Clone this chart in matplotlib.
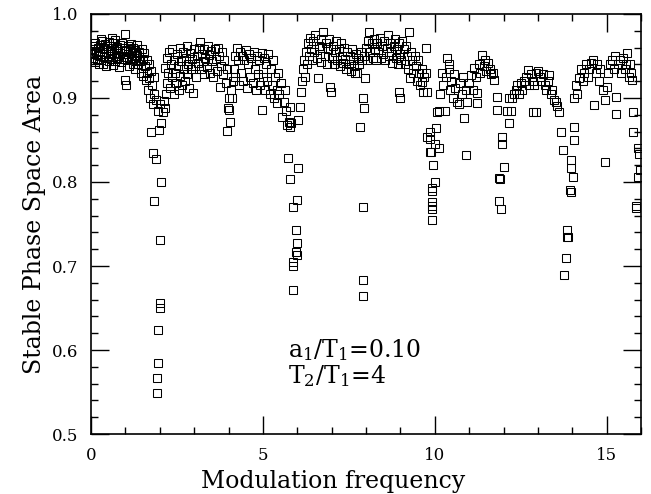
import matplotlib
matplotlib.use("Agg")
import matplotlib.pyplot as plt
from matplotlib.ticker import MultipleLocator

plt.rcParams['font.family'] = ['DejaVu Serif']
plt.rcParams['mathtext.fontset'] = 'dejavuserif'

# upper band, 0 - 1.85
x1 = [0.03, 0.05, 0.07, 0.09, 0.11, 0.13, 0.15, 0.17, 0.19, 0.21, 0.23, 0.25, 0.27, 0.29, 0.30, 0.31,
      0.33, 0.35, 0.37, 0.39, 0.41, 0.43, 0.45, 0.47, 0.49, 0.51, 0.53, 0.55, 0.57, 0.59, 0.60, 0.61,
      0.63, 0.65, 0.67, 0.69, 0.71, 0.73, 0.75, 0.77, 0.79, 0.81, 0.83, 0.85, 0.87, 0.89, 0.91, 0.93,
      0.95, 0.97, 0.99, 1.00, 1.01, 1.03, 1.05, 1.07, 1.09, 1.11, 1.13, 1.15, 1.17, 1.19, 1.21, 1.23,
      1.25, 1.27, 1.29, 1.31, 1.33, 1.35, 1.37, 1.40, 1.42, 1.45, 1.47, 1.50, 1.52, 1.55, 1.57, 1.60,
      1.62, 1.64, 1.66, 1.68, 1.70, 1.72, 1.75, 1.77, 1.80, 1.82, 1.84]
y1 = [0.958, 0.948, 0.962, 0.953, 0.943, 0.966, 0.955, 0.947, 0.960, 0.951, 0.940, 0.963, 0.956, 0.945, 0.970, 0.968,
      0.952, 0.941, 0.959, 0.949, 0.964, 0.955, 0.938, 0.962, 0.950, 0.944, 0.967, 0.957, 0.946, 0.960, 0.972, 0.952,
      0.939, 0.965, 0.954, 0.944, 0.969, 0.958, 0.948, 0.961, 0.950, 0.937, 0.963, 0.953, 0.943, 0.966, 0.956, 0.946,
      0.959, 0.949, 0.976, 0.921, 0.915, 0.957, 0.945, 0.962, 0.952, 0.938, 0.958, 0.947, 0.964, 0.953, 0.941, 0.960,
      0.948, 0.934, 0.957, 0.945, 0.963, 0.951, 0.940, 0.955, 0.944, 0.930, 0.958, 0.947, 0.926, 0.953, 0.938, 0.921,
      0.945, 0.930, 0.910, 0.940, 0.924, 0.900, 0.932, 0.915, 0.893, 0.925, 0.905]

# dip near 2
x2 = [1.75, 1.80, 1.88, 1.84, 2.04, 2.01, 2.01, 2.02, 1.95, 1.96, 1.92, 1.93, 1.90, 1.95, 2.05, 2.10,
      2.00, 2.12, 2.15, 1.98]
y2 = [0.860, 0.835, 0.827, 0.777, 0.800, 0.731, 0.656, 0.650, 0.624, 0.585, 0.567, 0.549, 0.898, 0.885, 0.870, 0.883,
      0.893, 0.897, 0.888, 0.862]

# band 2.15 - 3.95
x3 = [2.15, 2.18, 2.20, 2.22, 2.25, 2.27, 2.30, 2.32, 2.35, 2.37, 2.40, 2.42, 2.45, 2.48, 2.50, 2.52,
      2.55, 2.58, 2.60, 2.63, 2.65, 2.68, 2.70, 2.73, 2.75, 2.78, 2.80, 2.83, 2.85, 2.88, 2.90, 2.93,
      2.97, 3.00, 3.02, 3.05, 3.08, 3.10, 3.13, 3.17, 3.20, 3.23, 3.25, 3.28, 3.30, 3.33, 3.36, 3.40,
      3.43, 3.46, 3.50, 3.53, 3.56, 3.60, 3.63, 3.66, 3.70, 3.73, 3.76, 3.78, 3.82, 3.85, 3.88, 3.92, 3.95]
y3 = [0.936, 0.905, 0.948, 0.918, 0.930, 0.955, 0.912, 0.940, 0.925, 0.958, 0.905, 0.945, 0.930, 0.918, 0.952, 0.938,
      0.910, 0.960, 0.926, 0.944, 0.915, 0.955, 0.934, 0.920, 0.948, 0.962, 0.928, 0.940, 0.912, 0.953, 0.935, 0.946,
      0.906, 0.958, 0.938, 0.925, 0.950, 0.942, 0.960, 0.967, 0.935, 0.952, 0.944, 0.928, 0.958, 0.948, 0.937, 0.962,
      0.951, 0.930, 0.956, 0.944, 0.925, 0.958, 0.947, 0.932, 0.960, 0.950, 0.913, 0.938, 0.955, 0.928, 0.945, 0.918, 0.935]

# dip near 4
x4 = [3.96, 4.05, 4.02, 4.10, 3.98, 4.00, 4.08, 4.12]
y4 = [0.861, 0.871, 0.886, 0.900, 0.888, 0.900, 0.910, 0.920]

# band 4.15 - 5.66
x5 = [4.15, 4.18, 4.20, 4.24, 4.27, 4.30, 4.33, 4.36, 4.40, 4.43, 4.46, 4.50, 4.53, 4.56, 4.60, 4.63,
      4.66, 4.70, 4.73, 4.76, 4.80, 4.83, 4.86, 4.90, 4.93, 4.96, 4.98, 5.00, 5.03, 5.06, 5.10, 5.13,
      5.16, 5.20, 5.23, 5.26, 5.30, 5.33, 5.36, 5.40, 5.41, 5.45, 5.48, 5.52, 5.56, 5.60, 5.63, 5.66]
y5 = [0.935, 0.950, 0.925, 0.960, 0.945, 0.915, 0.955, 0.930, 0.950, 0.920, 0.945, 0.957, 0.912, 0.940, 0.952, 0.925,
      0.948, 0.918, 0.955, 0.935, 0.910, 0.950, 0.928, 0.945, 0.915, 0.953, 0.886, 0.925, 0.948, 0.910, 0.940, 0.920,
      0.952, 0.905, 0.935, 0.915, 0.945, 0.900, 0.925, 0.910, 0.894, 0.930, 0.905, 0.918, 0.877, 0.895, 0.910, 0.885]

# dip near 6
x6 = [5.70, 5.75, 5.80, 5.78, 5.82, 6.03, 6.08, 5.72, 6.03, 5.80, 6.00, 5.88, 5.97, 5.99, 5.95, 5.99,
      5.88, 5.89, 5.88]
y6 = [0.868, 0.872, 0.889, 0.865, 0.870, 0.874, 0.889, 0.829, 0.817, 0.804, 0.779, 0.770, 0.743, 0.727, 0.717, 0.713,
      0.705, 0.700, 0.672]

# band 6.1 - 9.8
x7 = [6.12, 6.15, 6.17, 6.20, 6.22, 6.25, 6.28, 6.30, 6.33, 6.36, 6.40, 6.43, 6.46, 6.50, 6.53, 6.56,
      6.60, 6.62, 6.65, 6.68, 6.70, 6.73, 6.76, 6.80, 6.83, 6.86, 6.90, 6.93, 6.96, 6.97, 7.00, 7.03,
      7.06, 7.10, 7.13, 7.16, 7.20, 7.23, 7.26, 7.30, 7.33, 7.36, 7.40, 7.43, 7.46, 7.50, 7.53, 7.56,
      7.60, 7.63, 7.66, 7.69, 7.72, 7.74, 7.78, 7.80, 7.83, 7.85, 7.88, 7.92, 7.93, 7.92, 7.92, 7.92,
      7.95, 7.98, 8.00, 8.03, 8.06, 8.10, 8.13, 8.16, 8.20, 8.23, 8.26, 8.30, 8.33, 8.36, 8.40, 8.43,
      8.46, 8.50, 8.53, 8.56, 8.60, 8.63, 8.66, 8.70, 8.73, 8.76, 8.80, 8.83, 8.86, 8.90, 8.93, 8.96,
      8.97, 8.98, 9.00, 9.03, 9.06, 9.10, 9.13, 9.16, 9.20, 9.23, 9.26, 9.29, 9.32, 9.35, 9.38, 9.42,
      9.45, 9.48, 9.52, 9.55, 9.58, 9.62, 9.64, 9.66, 9.70, 9.75, 9.75, 9.78, 9.78]
y7 = [0.907, 0.920, 0.935, 0.945, 0.925, 0.955, 0.940, 0.965, 0.950, 0.972, 0.958, 0.945, 0.968, 0.955, 0.975, 0.948,
      0.924, 0.962, 0.952, 0.970, 0.943, 0.960, 0.978, 0.950, 0.966, 0.940, 0.958, 0.970, 0.913, 0.907, 0.948, 0.962,
      0.940, 0.955, 0.968, 0.945, 0.958, 0.938, 0.965, 0.950, 0.942, 0.960, 0.946, 0.935, 0.955, 0.940, 0.950, 0.932,
      0.958, 0.945, 0.938, 0.930, 0.952, 0.930, 0.948, 0.940, 0.866, 0.955, 0.945, 0.900, 0.888, 0.770, 0.683, 0.664,
      0.950, 0.924, 0.960, 0.945, 0.968, 0.978, 0.955, 0.965, 0.948, 0.970, 0.958, 0.945, 0.966, 0.955, 0.972, 0.948,
      0.962, 0.952, 0.968, 0.945, 0.960, 0.975, 0.950, 0.965, 0.955, 0.942, 0.962, 0.970, 0.948, 0.958, 0.940, 0.965,
      0.907, 0.900, 0.952, 0.945, 0.968, 0.958, 0.940, 0.962, 0.950, 0.935, 0.978, 0.924, 0.955, 0.945, 0.930, 0.950,
      0.938, 0.920, 0.945, 0.930, 0.915, 0.935, 0.919, 0.907, 0.925, 0.930, 0.960, 0.907, 0.854]

# dip near 10
x8 = [9.87, 9.87, 9.96, 10.00, 9.93, 9.93, 9.92, 9.93, 9.92, 9.93, 10.07, 10.04, 10.00, 9.90, 10.13, 9.85]
y8 = [0.860, 0.836, 0.820, 0.800, 0.793, 0.789, 0.776, 0.771, 0.768, 0.755, 0.883, 0.864, 0.845, 0.836, 0.840, 0.851]

# band 10.1 - 11.75
x9 = [10.12, 10.16, 10.20, 10.25, 10.30, 10.33, 10.36, 10.40, 10.42, 10.45, 10.48, 10.52, 10.55, 10.60,
      10.65, 10.70, 10.73, 10.78, 10.82, 10.86, 10.90, 10.92, 10.95, 11.00, 11.06, 11.10, 11.15, 11.20,
      11.24, 11.24, 11.28, 11.32, 11.38, 11.42, 11.46, 11.50, 11.55, 11.60, 11.65, 11.70, 11.73]
y9 = [0.885, 0.905, 0.930, 0.915, 0.885, 0.925, 0.948, 0.940, 0.935, 0.910, 0.920, 0.900, 0.928, 0.912,
      0.895, 0.893, 0.918, 0.905, 0.925, 0.876, 0.910, 0.832, 0.895, 0.918, 0.927, 0.910, 0.936, 0.925,
      0.906, 0.894, 0.940, 0.930, 0.951, 0.938, 0.945, 0.932, 0.942, 0.935, 0.928, 0.930, 0.921]

# dip near 12
x10 = [11.80, 11.80, 11.97, 11.97, 12.02, 11.86, 11.90, 11.88, 11.92]
y10 = [0.901, 0.886, 0.853, 0.845, 0.818, 0.805, 0.803, 0.777, 0.768]

# band 12.1 - 13.65
x11 = [12.10, 12.17, 12.17, 12.22, 12.25, 12.30, 12.35, 12.40, 12.45, 12.50, 12.55, 12.60, 12.65, 12.70,
       12.75, 12.80, 12.85, 12.87, 12.90, 12.95, 13.00, 13.05, 13.10, 13.15, 13.20, 13.25, 13.30, 13.33,
       13.38, 13.42, 13.48, 13.52, 13.56, 13.62, 12.95]
y11 = [0.885, 0.900, 0.870, 0.885, 0.900, 0.905, 0.910, 0.915, 0.905, 0.918, 0.910, 0.920, 0.925, 0.933,
       0.915, 0.928, 0.920, 0.883, 0.915, 0.930, 0.932, 0.925, 0.920, 0.928, 0.915, 0.910, 0.920, 0.927,
       0.905, 0.910, 0.898, 0.895, 0.890, 0.883, 0.883]

# dip near 14
x12 = [13.68, 14.06, 14.06, 13.74, 13.97, 13.97, 14.03, 13.92, 13.95, 13.86, 13.84, 13.89, 13.83, 13.77]
y12 = [0.860, 0.865, 0.850, 0.838, 0.826, 0.817, 0.806, 0.790, 0.788, 0.743, 0.735, 0.735, 0.710, 0.689]

# band 14.05 - 15.75
x13 = [14.05, 14.10, 14.15, 14.20, 14.25, 14.30, 14.35, 14.40, 14.45, 14.50, 14.55, 14.60, 14.64, 14.68,
       14.72, 14.78, 14.82, 14.88, 14.94, 14.94, 15.00, 15.05, 15.10, 15.15, 15.20, 15.25, 15.28, 15.28,
       15.32, 15.38, 15.42, 15.48, 15.52, 15.56, 15.60, 15.64, 15.68, 15.72, 15.75]
y13 = [0.900, 0.915, 0.905, 0.924, 0.935, 0.920, 0.930, 0.940, 0.925, 0.935, 0.942, 0.945, 0.892, 0.930,
       0.940, 0.920, 0.935, 0.910, 0.898, 0.824, 0.913, 0.930, 0.940, 0.945, 0.935, 0.950, 0.901, 0.881,
       0.940, 0.945, 0.930, 0.948, 0.935, 0.940, 0.954, 0.925, 0.940, 0.930, 0.921]

# dip near 16
x14 = [15.78, 15.78, 15.92, 15.95, 15.98, 15.90, 15.84, 15.86]
y14 = [0.883, 0.860, 0.840, 0.833, 0.814, 0.806, 0.769, 0.772]

freq = x1 + x2 + x3 + x4 + x5 + x6 + x7 + x8 + x9 + x10 + x11 + x12 + x13 + x14
area = y1 + y2 + y3 + y4 + y5 + y6 + y7 + y8 + y9 + y10 + y11 + y12 + y13 + y14

fig = plt.figure(figsize=(6.51, 4.94), dpi=100)
ax = fig.add_axes([91/651, 60/494, 550/651, 420/494])

ax.plot(freq, area, 's', markersize=6.2, markerfacecolor='none',
        markeredgecolor='black', markeredgewidth=0.75)

ax.set_xlim(0, 16)
ax.set_ylim(0.5, 1.0)
ax.xaxis.set_major_locator(MultipleLocator(5))
ax.xaxis.set_minor_locator(MultipleLocator(1))
ax.yaxis.set_major_locator(MultipleLocator(0.1))
ax.yaxis.set_minor_locator(MultipleLocator(0.02))
ax.set_yticks([0.5, 0.6, 0.7, 0.8, 0.9, 1.0])
ax.set_yticklabels(['0.5', '0.6', '0.7', '0.8', '0.9', '1.0'])
ax.tick_params(which='both', direction='in', top=True, right=True, width=1, labelsize=12, pad=9)
ax.tick_params(which='major', length=13)
ax.tick_params(which='minor', length=5)
for s in ax.spines.values():
    s.set_linewidth(1.2)

ax.set_xlabel('Modulation frequency', fontsize=17)
ax.set_ylabel('Stable Phase Space Area', fontsize=17)
ax.xaxis.set_label_coords(0.44, -0.085)

ax.text(5.74, 0.592, r'a$_1$/T$_1$=0.10', fontsize=17)
ax.text(5.74, 0.561, r'T$_2$/T$_1$=4', fontsize=17)

fig.savefig('out.png', dpi=100)
